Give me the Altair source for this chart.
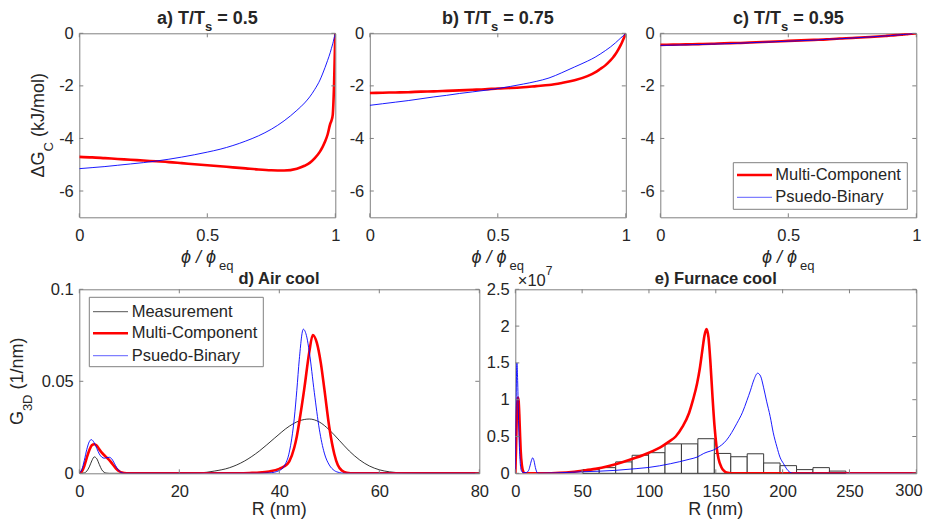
import altair as alt
import pandas as pd

FONT = "Liberation Sans, Arial, DejaVu Sans, sans-serif"
TXT = "#262626"
FRAME = "#808080"
RED = "#ff0000"
BLUE = "#0000ff"
BLACK = "#000000"

# ---------------- data: panels a-c (phi/phi_eq vs dG_C, kJ/mol) ----------------
PHI = [0, 0.05, 0.1, 0.15, 0.2, 0.25, 0.3, 0.35, 0.4, 0.45, 0.5, 0.55, 0.6, 0.65, 0.7,
       0.75, 0.8, 0.85, 0.88, 0.9, 0.92, 0.94, 0.95, 0.96, 0.97, 0.98, 0.985, 0.99, 0.995, 1.0]
DG_A_MC = [-4.70, -4.72, -4.75, -4.78, -4.81, -4.84, -4.87, -4.90, -4.94, -4.98, -5.02, -5.06,
           -5.10, -5.14, -5.18, -5.21, -5.22, -5.15, -5.04, -4.93, -4.75, -4.50, -4.33, -4.12,
           -3.85, -3.45, -3.32, -3.10, -2.0, 0.0]
DG_A_PB = [-5.15, -5.11, -5.07, -5.02, -4.97, -4.92, -4.86, -4.79, -4.71, -4.62, -4.52, -4.41,
           -4.27, -4.10, -3.90, -3.65, -3.33, -2.93, -2.65, -2.42, -2.13, -1.78, -1.55, -1.30,
           -1.03, -0.74, -0.57, -0.40, -0.20, 0.0]
DG_B_MC = [-2.27, -2.26, -2.25, -2.24, -2.22, -2.21, -2.19, -2.17, -2.15, -2.13, -2.10, -2.08,
           -2.05, -2.01, -1.97, -1.89, -1.79, -1.63, -1.49, -1.36, -1.22, -1.03, -0.92, -0.79,
           -0.63, -0.45, -0.35, -0.24, -0.12, 0.0]
DG_B_PB = [-2.74, -2.68, -2.62, -2.56, -2.49, -2.42, -2.36, -2.29, -2.23, -2.17, -2.10, -2.02,
           -1.93, -1.83, -1.70, -1.50, -1.28, -1.06, -0.91, -0.79, -0.66, -0.52, -0.44, -0.36,
           -0.27, -0.18, -0.14, -0.09, -0.05, 0.0]
DG_C_MC = [-0.44, -0.43, -0.42, -0.41, -0.40, -0.38, -0.37, -0.35, -0.33, -0.31, -0.29, -0.27,
           -0.25, -0.23, -0.20, -0.18, -0.15, -0.12, -0.10, -0.085, -0.07, -0.055, -0.045, -0.036,
           -0.027, -0.018, -0.013, -0.009, -0.004, 0.0]
DG_C_PB = [-0.46, -0.45, -0.44, -0.43, -0.41, -0.40, -0.38, -0.36, -0.34, -0.32, -0.30, -0.28,
           -0.26, -0.23, -0.21, -0.18, -0.15, -0.12, -0.10, -0.09, -0.07, -0.055, -0.046, -0.037,
           -0.028, -0.019, -0.014, -0.009, -0.005, 0.0]

# ---------------- data: panel d (air cool) ----------------
R_D_MEAS = [0, 1, 1.5, 2, 2.5, 3, 3.5, 4, 4.5, 5, 5.5, 6, 7, 20, 24, 27, 30, 33, 36, 39, 42, 44,
            46, 48, 50, 52, 54, 56, 58, 60, 62, 65, 70, 80]
G_D_MEAS = [0, 0.0002, 0.0012, 0.0035, 0.0068, 0.0089, 0.0079, 0.0048, 0.0019, 0.0005, 0.0001, 0,
            0, 0, 0.0002, 0.0012, 0.003, 0.0066, 0.0121, 0.019, 0.0256, 0.0285, 0.0295, 0.0279,
            0.0236, 0.0179, 0.0121, 0.0074, 0.004, 0.0019, 0.0008, 0.0002, 0, 0]
R_D_MC = [0, 0.5, 1, 1.5, 2, 2.5, 3, 3.5, 4, 4.5, 5, 5.5, 6, 6.5, 7, 7.5, 8, 8.5, 9, 10, 30, 34,
          36, 38, 40, 41, 42, 43, 43.5, 44, 45, 46, 46.7, 47.5, 48.3, 49, 50, 51, 51.7, 52.5,
          53.5, 55, 80]
G_D_MC = [0, 0.001, 0.004, 0.0085, 0.0125, 0.0152, 0.0158, 0.015, 0.013, 0.0112, 0.0098, 0.0085,
          0.0072, 0.0055, 0.0038, 0.0022, 0.0011, 0.0004, 0.0001, 0, 0, 0.0002, 0.0004, 0.001,
          0.0024, 0.0038, 0.0065, 0.014, 0.02, 0.028, 0.046, 0.066, 0.0752, 0.071, 0.06, 0.046,
          0.025, 0.0105, 0.0045, 0.0015, 0.0003, 0, 0]
R_D_PB = [0, 0.5, 1, 1.5, 2, 2.4, 3, 3.5, 4, 4.5, 5, 5.5, 6, 6.5, 7, 7.5, 8, 8.5, 9, 10, 36, 38,
          40, 41, 42, 43, 43.5, 44, 44.8, 45.5, 46, 47, 48, 49, 50, 51, 52, 53, 80]
G_D_PB = [0, 0.002, 0.007, 0.013, 0.0172, 0.0183, 0.0165, 0.0135, 0.0105, 0.0088, 0.0082, 0.0085,
          0.0087, 0.0078, 0.0055, 0.003, 0.0012, 0.0003, 0, 0, 0, 0.0002, 0.0015, 0.004, 0.0115,
          0.03, 0.045, 0.062, 0.0783, 0.074, 0.066, 0.044, 0.024, 0.011, 0.0045, 0.0015, 0.0004,
          0, 0]

# ---------------- data: panel e (furnace cool), values in units of 1e7 ----------------
R_E_MC = [0, 0.5, 1, 1.5, 2, 2.5, 3, 3.5, 4, 5, 6, 7, 20, 30, 40, 50, 60, 70, 80, 90, 100, 110,
          115, 120, 125, 130, 133, 136, 138, 140, 141.5, 143, 144.5, 146, 147.5, 149, 150.5, 152,
          154, 156, 158, 162, 300]
G_E_MC = [0, 0.3, 0.7, 0.95, 1.03, 0.98, 0.8, 0.55, 0.32, 0.1, 0.02, 0, 0, 0.005, 0.015, 0.035,
          0.06, 0.1, 0.15, 0.21, 0.28, 0.37, 0.43, 0.5, 0.63, 0.82, 1.0, 1.22, 1.42, 1.68, 1.87,
          1.96, 1.85, 1.5, 1.05, 0.65, 0.37, 0.2, 0.09, 0.035, 0.01, 0, 0]
R_E_PB = [0, 0.5, 1.2, 1.7, 2.2, 2.7, 3.2, 4, 5, 6, 8, 10, 11, 12, 13, 14, 15, 16, 17, 30, 50, 75,
          91, 100, 116, 130, 136, 141, 150.8, 158, 165.8, 170, 173.3, 176, 178.5, 181.3, 183.5,
          185.7, 188, 190.7, 193, 195.7, 198, 200.7, 203, 205, 208, 300]
G_E_PB = [0, 0.8, 1.5, 1.3, 0.9, 0.55, 0.3, 0.08, 0.02, 0.01, 0.01, 0.04, 0.1, 0.17, 0.21, 0.17,
          0.08, 0.02, 0, 0.005, 0.02, 0.04, 0.064, 0.08, 0.13, 0.19, 0.22, 0.27, 0.34, 0.45, 0.68,
          0.83, 0.99, 1.13, 1.27, 1.36, 1.32, 1.17, 0.98, 0.77, 0.55, 0.36, 0.22, 0.13, 0.06,
          0.02, 0, 0]
BIN_EDGES = [50.5, 62.8, 75.1, 87.4, 99.7, 112.0, 124.3, 136.6, 148.9, 161.2, 173.5, 185.8,
             198.1, 210.4, 222.7, 235.0, 247.3]
HIST_E = [0.05, 0.077, 0.155, 0.245, 0.28, 0.40, 0.40, 0.47, 0.27, 0.225, 0.265, 0.14, 0.104,
          0.05, 0.077, 0.03]

# ---------------- ticks, labels ----------------
PHI_TICKS = [0, 0.5, 1]
DG_TICKS = [0, -2, -4, -6]
RD_TICKS = [0, 20, 40, 60, 80]
GD_TICKS = [0, 0.05, 0.1]
RE_TICKS = [0, 50, 100, 150, 200, 250, 300]
GE_TICKS = [0, 0.5, 1, 1.5, 2, 2.5]
SERIES_2 = ["Multi-Component", "Psuedo-Binary"]
SERIES_3 = ["Measurement", "Multi-Component", "Psuedo-Binary"]
T_RATIOS = ["0.5", "0.75", "0.95"]
BOTTOM_TITLES = ["d) Air cool", "e) Furnace cool"]

# ---------------- layout constants ----------------
W_TOP, W_D, W_E, H = 256, 400, 401, 184
TICK = 4
LABEL_SIZE = 16.5
AXT_SIZE = 18
SUB_SIZE = 13

REG_W = {' ': 278, '(': 333, ')': 333, '/': 278, '-': 333, '.': 278, '=': 584, '×': 584,
         'Δ': 668, 'ϕ': 640, 'A': 667, 'B': 667, 'C': 722, 'D': 722, 'G': 778, 'J': 500,
         'M': 833, 'P': 667, 'R': 722, 'T': 611, 'a': 556, 'b': 556, 'c': 500, 'd': 556,
         'e': 556, 'i': 222, 'k': 500, 'l': 222, 'm': 833, 'n': 556, 'o': 556, 'p': 556,
         'q': 556, 'r': 333, 's': 500, 't': 278, 'u': 556, 'y': 500}
BOLD_W = {' ': 278, '(': 333, ')': 333, '/': 278, '.': 278, '=': 584, 'A': 722, 'F': 611,
          'T': 611, 'a': 556, 'b': 611, 'c': 556, 'd': 611, 'e': 556, 'i': 278, 'l': 278,
          'n': 611, 'o': 611, 'r': 389, 's': 556, 'u': 611}


def tw(s, size, bold=False):
    t = BOLD_W if bold else REG_W
    return sum(t.get(c, 556) for c in s) * size / 1000.0


ONE = pd.DataFrame({"k": [0]})


def text_mark(s, x, y, size, bold=False, italic=False, align="left",
              baseline="alphabetic", angle=0, color=TXT):
    kw = dict(text=s, font=FONT, fontSize=size, align=align, baseline=baseline, color=color,
              fontWeight="bold" if bold else "normal",
              fontStyle="italic" if italic else "normal")
    if angle:
        kw["angle"] = angle
    return alt.Chart(ONE).mark_text(**kw).encode(x=alt.value(x), y=alt.value(y))


def rich_h(pieces, cx, base, bold=False, start=None):
    total = sum(tw(p[0], p[1], bold) for p in pieces)
    x = cx - total / 2 if start is None else start
    out = []
    for s, size, dy, it in pieces:
        lead = len(s) - len(s.lstrip(' '))
        xx = x + tw(' ' * lead, size, bold)
        out.append(text_mark(s.strip(' '), xx, base + dy, size, bold=bold, italic=it))
        x += tw(s, size, bold)
    return out


def rich_v(pieces, cy, base_x):
    total = sum(tw(p[0], p[1]) for p in pieces)
    y = cy + total / 2
    out = []
    for s, size, dx, it in pieces:
        lead = len(s) - len(s.lstrip(' '))
        yy = y - tw(' ' * lead, size)
        out.append(text_mark(s.strip(' '), base_x + dx, yy, size, italic=it, angle=270))
        y -= tw(s, size)
    return out


def legend(x0, x1, y0, y1, rows, sx0, sx1, tx):
    out = [alt.Chart(ONE).mark_rect(fill="white", stroke=FRAME, strokeWidth=1).encode(
        x=alt.value(x0), x2=alt.value(x1), y=alt.value(y0), y2=alt.value(y1))]
    for label, color, sw, yc in rows:
        out.append(alt.Chart(ONE).mark_rule(color=color, strokeWidth=sw).encode(
            x=alt.value(sx0), x2=alt.value(sx1), y=alt.value(yc)))
        out.append(text_mark(label, tx, yc, LABEL_SIZE, baseline="middle"))
    return out


def make_axis(vals, pad, expr="toString(datum.value)"):
    return alt.Axis(values=vals, labelExpr=expr, title=None, ticks=False,
                    tickSize=0, domain=False, grid=False, labelFont=FONT,
                    labelFontSize=LABEL_SIZE, labelColor=TXT, labelPadding=pad,
                    labelFlush=False, labelOverlap=False)


def panel(w, xdom, ydom, xt, yt, lines, bars=None, extra=(), xexpr="toString(datum.value)"):
    xs = alt.Scale(domain=xdom, nice=False, zero=False)
    ys = alt.Scale(domain=ydom, nice=False, zero=False)
    xa = make_axis(xt, 10, xexpr)
    ya = make_axis(yt, 6)

    def X(f):
        return alt.X(f, type="quantitative", scale=xs, axis=xa)

    def Y(f):
        return alt.Y(f, type="quantitative", scale=ys, axis=ya)

    layers = []
    if bars is not None:
        layers.append(alt.Chart(bars).mark_rect(fill="white", stroke="#3a3a3a", strokeWidth=1)
                      .encode(x=X("lo"), x2="hi:Q", y=Y("h"), y2=alt.datum(0)))
    for xv, yv, color, sw in lines:
        df = pd.DataFrame({"x": xv, "y": yv})
        layers.append(alt.Chart(df).mark_line(color=color, strokeWidth=sw,
                                              interpolate="monotone", clip=True)
                      .encode(x=X("x"), y=Y("y")))
    dx = pd.DataFrame({"v": xt})
    dy = pd.DataFrame({"v": yt})
    layers.append(alt.Chart(dx).mark_rule(color=FRAME, strokeWidth=1).encode(
        x=X("v"), y=alt.value(H), y2=alt.value(H - TICK)))
    layers.append(alt.Chart(dx).mark_rule(color=FRAME, strokeWidth=1).encode(
        x=X("v"), y=alt.value(0), y2=alt.value(TICK)))
    layers.append(alt.Chart(dy).mark_rule(color=FRAME, strokeWidth=1).encode(
        y=Y("v"), x=alt.value(0), x2=alt.value(TICK)))
    layers.append(alt.Chart(dy).mark_rule(color=FRAME, strokeWidth=1).encode(
        y=Y("v"), x=alt.value(w), x2=alt.value(w - TICK)))
    layers.extend(extra)
    return alt.layer(*layers).properties(width=w, height=H)


def top_title(letter, ratio):
    return rich_h([(letter + ") T/T", 18, 0, False), ("s", 13, 7, False),
                   (" = " + ratio, 18, 0, False)], W_TOP / 2, -9.3, bold=True)


phi_title = rich_h([("ϕ / ϕ", AXT_SIZE, 0, True), ("eq", SUB_SIZE, 7, False)],
                   W_TOP / 2, H + 46)
dg_title = rich_v([("ΔG", AXT_SIZE, 0, False), ("C", SUB_SIZE, 9, False),
                   (" (kJ/mol)", AXT_SIZE, 0, False)], H / 2, -35.8)

pa = panel(W_TOP, [0, 1], [-7, 0], PHI_TICKS, DG_TICKS,
           [(PHI, DG_A_MC, RED, 2.6), (PHI, DG_A_PB, BLUE, 0.9)],
           extra=top_title("a", T_RATIOS[0]) + phi_title + dg_title)
pb = panel(W_TOP, [0, 1], [-7, 0], PHI_TICKS, DG_TICKS,
           [(PHI, DG_B_MC, RED, 2.6), (PHI, DG_B_PB, BLUE, 0.9)],
           extra=top_title("b", T_RATIOS[1]) + phi_title)
leg_c = legend(73, 247, 129.4, 176,
               [(SERIES_2[0], RED, 2.6, 141.7), (SERIES_2[1], "#7f7fff", 1.2, 164)],
               76.7, 111.7, 115)
pc = panel(W_TOP, [0, 1], [-7, 0], PHI_TICKS, DG_TICKS,
           [(PHI, DG_C_MC, RED, 2.6), (PHI, DG_C_PB, BLUE, 0.9)],
           extra=top_title("c", T_RATIOS[2]) + phi_title + leg_c)

r_title_d = rich_h([("R (nm)", AXT_SIZE, 0, False)], W_D / 2, H + 42)
r_title_e = rich_h([("R (nm)", AXT_SIZE, 0, False)], W_E / 2, H + 42)
g_title = rich_v([("G", AXT_SIZE, 0, False), ("3D", SUB_SIZE, 8.5, False),
                  (" (1/nm)", AXT_SIZE, 0, False)], H / 2, -56)
leg_d = legend(10, 184, 8, 77.4,
               [(SERIES_3[0], "#555555", 1, 22.4), (SERIES_3[1], RED, 2.6, 44),
                (SERIES_3[2], "#7f7fff", 1.2, 66.4)],
               13.7, 48.7, 52.4)
title_d = rich_h([(BOTTOM_TITLES[0], 16.5, 0, False)], W_D / 2, -5, bold=True)
title_e = rich_h([(BOTTOM_TITLES[1], 16.5, 0, False)], W_E / 2, -5, bold=True)
exp_e = rich_h([("×10", LABEL_SIZE, 0, False), ("7", 12, -11.5, False)], 0, -3, start=2.5)
# last tick label of panel e sits at the page edge: draw it flush with the edge
last_e = [text_mark(str(RE_TICKS[-1]), W_E + 6.5, H + 10, LABEL_SIZE, align="right",
                    baseline="top")]

pd_ = panel(W_D, [0, 80], [0, 0.1], RD_TICKS, GD_TICKS,
            [(R_D_MEAS, G_D_MEAS, BLACK, 0.8), (R_D_MC, G_D_MC, RED, 2.6),
             (R_D_PB, G_D_PB, BLUE, 0.9)],
            extra=title_d + r_title_d + g_title + leg_d)

bars_e = pd.DataFrame({"lo": BIN_EDGES[:-1], "hi": BIN_EDGES[1:], "h": HIST_E})
pe = panel(W_E, [0, 300], [0, 2.5], RE_TICKS, GE_TICKS,
           [(R_E_MC, G_E_MC, RED, 2.6), (R_E_PB, G_E_PB, BLUE, 0.9)],
           bars=bars_e, extra=title_e + r_title_e + exp_e + last_e,
           xexpr="datum.value == 300 ? '' : toString(datum.value)")

top = alt.hconcat(pa, pb, pc, spacing=34.5, bounds="flush")
bottom = alt.hconcat(pd_, pe, spacing=36, bounds="flush")
chart = alt.vconcat(top, bottom, spacing=256, bounds="flush").properties(
    autosize=alt.AutoSizeParams(type="none"),
    padding={"left": 71.3, "top": 25.3, "right": 843.7, "bottom": 485.7},
    background="white",
).configure_view(stroke=FRAME, strokeWidth=1)

chart.save("out.html", embed_options={"renderer": "svg", "actions": False})
